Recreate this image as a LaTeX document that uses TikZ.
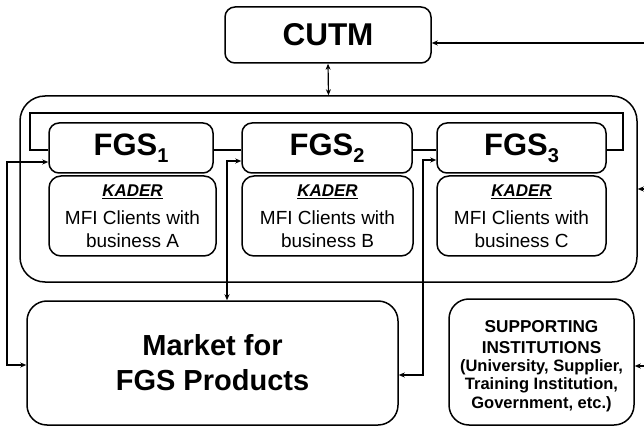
\documentclass[tikz,border=0pt]{standalone}
\usepackage{fontspec}
\setmainfont{Liberation Sans}
\usetikzlibrary{arrows.meta}
\newcommand\kaderul[1]{\setbox0=\hbox{#1}\dimen0=\wd0\relax\leavevmode\rlap{\box0}\rule[-3pt]{\dimen0}{1.3pt}}
\newcommand\kaderhead{{\fontsize{17}{17}\selectfont\bfseries\itshape\kaderul{KADER}}}
\newcommand\fgssub[1]{\raisebox{-7pt}{\fontsize{20}{20}\selectfont #1}}
\begin{document}
\begin{tikzpicture}[x=1pt,y=-1pt,
  boxsty/.style={draw,line width=1.5pt,fill=white,inner sep=0pt,align=center,rounded corners=10pt},
  fgs/.style={boxsty,minimum height=50pt,font=\fontsize{31}{36}\selectfont\bfseries},
  kader/.style={boxsty,rounded corners=12pt,minimum height=80pt,font=\fontsize{19}{23}\selectfont},
  conn/.style={line width=1.2pt},
  brk/.style={line width=1.5pt},
  dbl/.style={conn,{Stealth[length=6pt,width=5pt]}-{Stealth[length=6pt,width=5pt]}},
  one/.style={conn,-{Stealth[length=6pt,width=5pt]}}]
\useasboundingbox (0,0) rectangle (644,427);
% container
\node[boxsty,rounded corners=25pt,minimum width=617pt,minimum height=186pt] (cont) at (328.5,189) {};
% top box
\node[boxsty,minimum width=206pt,minimum height=56pt,font=\fontsize{31.5}{36}\selectfont\bfseries] (cutm) at (328,35) {CUTM};
% bracket coordinates
\coordinate (bl) at (30,150);
\coordinate (tl) at (30,113);
\coordinate (tr) at (623,113);
\coordinate (br) at (623,150);
% FGS boxes
\node[fgs,minimum width=164pt] (fgs1) at (131,148) {FGS\fgssub{1}};
\node[fgs,minimum width=170pt] (fgs2) at (327,148) {FGS\fgssub{2}};
\node[fgs,minimum width=169pt] (fgs3) at (521.5,148) {FGS\fgssub{3}};
% KADER boxes
\node[kader,minimum width=167pt] (k1) at (132.5,216) {\kaderhead\\[5pt]MFI Clients with\\business A};
\node[kader,minimum width=171pt] (k2) at (327.5,216) {\kaderhead\\[5pt]MFI Clients with\\business B};
\node[kader,minimum width=169pt] (k3) at (521.5,216) {\kaderhead\\[5pt]MFI Clients with\\business C};
% market and supporting
\node[boxsty,rounded corners=20pt,minimum width=371pt,minimum height=124pt,font=\fontsize{29}{35}\selectfont\bfseries] (market) at (212.5,363) {Market for\\FGS Products};
\node[boxsty,rounded corners=20pt,minimum width=185pt,minimum height=126pt] (supp) at (541.5,362) {};
\node[align=center,inner sep=0pt,font=\fontsize{16.5}{18.3}\selectfont\bfseries] (supptext) at (541.5,366)
  {{\fontsize{17.2}{18.3}\selectfont SUPPORTING}\\[2.7pt]{\fontsize{17.2}{18.3}\selectfont INSTITUTIONS}\\(University, Supplier,\\Training Institution,\\Government, etc.)};
% bracket lines
\draw[brk] (bl -| fgs1.west) -- (bl) -- (tl) -- (tr) -- (br) -- (br -| fgs3.east);
\draw[brk] (bl -| fgs1.east) -- (bl -| fgs2.west);
\draw[brk] (bl -| fgs2.east) -- (bl -| fgs3.west);
% connectors
\draw[dbl] (cutm.south) -- (cont.north);
\coordinate (rA) at (644,43);
\coordinate (rB) at (644,189);
\coordinate (rC) at (644,366);
\draw[one] (rA) -- (rA -| cutm.east);
\draw[one] (rB) -- (rB -| cont.east);
\draw[one] (rC) -- (rC -| supp.east);
\coordinate (la) at (7,162);
\coordinate (lb) at (7,365);
\draw[dbl] (la -| fgs1.west) -- (la) -- (lb) -- (lb -| market.west);
\coordinate (ma) at (227,161);
\draw[dbl] (ma -| fgs2.west) -- (ma) -- (ma |- market.north);
\coordinate (na) at (423,160);
\coordinate (nb) at (423,375);
\draw[dbl] (na -| fgs3.west) -- (na) -- (nb) -- (nb -| market.east);
\end{tikzpicture}
\end{document}
